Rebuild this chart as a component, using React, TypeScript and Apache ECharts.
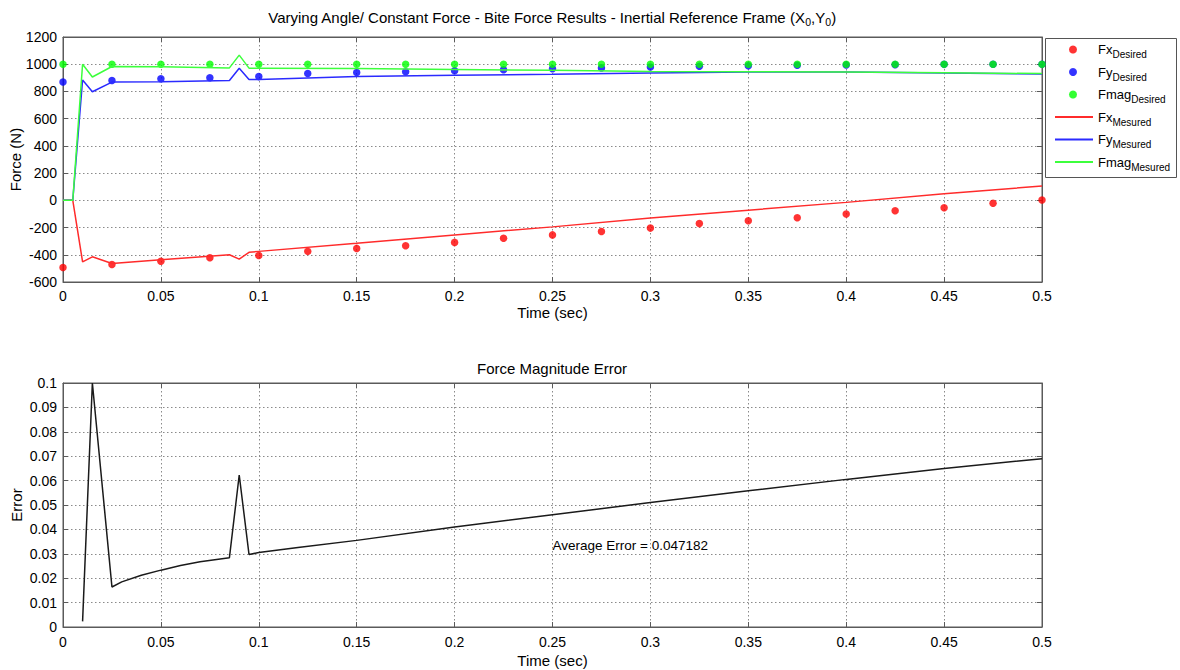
import React, { useEffect, useRef } from "react";
import * as echarts from "echarts";

// ---------- data ----------
const tDesired = [0, 0.025, 0.05, 0.075, 0.1, 0.125, 0.15, 0.175, 0.2, 0.225, 0.25, 0.275, 0.3, 0.325, 0.35, 0.375, 0.4, 0.425, 0.45, 0.475, 0.5];
const fxDesired = [-494, -472, -447, -422, -405, -375, -353, -334, -309, -279, -254, -229, -204, -171, -150, -128, -100, -76, -54, -22, 2];
const fyDesired = [870, 881, 893, 901, 909, 931, 939, 944, 952, 960, 967, 973, 979, 985, 989, 992, 995, 997, 999, 1000, 1000];
const fmagDesired = [1000, 1000, 1000, 1000, 1000, 1000, 1000, 1000, 1000, 1000, 1000, 1000, 1000, 1000, 1000, 1000, 1000, 1000, 1000, 1000, 1000];

const tMeasured = [0, 0.005, 0.01, 0.015, 0.025, 0.05, 0.085, 0.09, 0.095, 0.1, 0.15, 0.2, 0.25, 0.3, 0.35, 0.4, 0.45, 0.5];
const fxMeasured = [0, 0, -452, -415, -464, -437, -400, -432, -382, -375, -316, -254, -195, -130, -72, -15, 48, 105];
const fyMeasured = [0, 0, 884, 798, 869, 872, 880, 971, 887, 888, 909, 919, 926, 936, 943, 943, 935, 928];
const fmagMeasured = [0, 0, 1000, 906, 983, 981, 973, 1067, 971, 971, 969, 961, 955, 946, 945, 943, 938, 931];

const tError = [0.01, 0.015, 0.025, 0.03, 0.04, 0.05, 0.06, 0.07, 0.085, 0.09, 0.095, 0.1, 0.12, 0.15, 0.2, 0.25, 0.3, 0.35, 0.4, 0.45, 0.5];
const errorValues = [0.0023, 0.1, 0.0164, 0.0185, 0.0212, 0.0233, 0.0252, 0.0267, 0.0284, 0.0623, 0.0297, 0.0305, 0.0326, 0.0355, 0.041, 0.046, 0.051, 0.0558, 0.0605, 0.065, 0.069];

const averageErrorLabel = "Average Error = 0.047182";
const averageErrorAnchor = [0.25, 0.0332];

const topTitle = "{n|Varying Angle/ Constant Force - Bite Force Results - Inertial Reference Frame (X}{s|0}{n|,Y}{s|0}{n|)}";
const bottomTitle = "Force Magnitude Error";

const desiredNames = ["FxDesired", "FyDesired", "FmagDesired"];
const measuredNames = ["FxMesured", "FyMesured", "FmagMesured"];

// ---------- helpers ----------
const FONT = "'Liberation Sans', Arial, Helvetica, sans-serif";
const zip = (xs: number[], ys: number[]) => xs.map((x, i) => [x, ys[i]]);

const AXIS_COLOR = "#5a5a5a";
const GRID_COLOR = "#8a8a8a";
const RED = "#ff2b2b";
const BLUE = "#2b2bff";
const GREEN = "#3cff3c";

function mainAxis(extra: any) {
  return {
    type: "value",
    axisLine: { show: true, onZero: false, lineStyle: { color: AXIS_COLOR, width: 1 } },
    axisTick: { show: true, inside: true, length: 5, lineStyle: { color: AXIS_COLOR } },
    splitLine: { show: true, lineStyle: { color: GRID_COLOR, type: [1.5, 2.5], width: 1 } },
    nameLocation: "middle",
    nameMoveOverlap: false,
    nameTextStyle: { color: "#000", fontSize: 15, fontFamily: FONT },
    ...extra,
  };
}
function tickAxis(extra: any) {
  return {
    type: "value",
    axisLine: { show: true, onZero: false, lineStyle: { color: AXIS_COLOR, width: 1 } },
    axisTick: { show: true, inside: true, length: 5, lineStyle: { color: AXIS_COLOR } },
    axisLabel: { show: false },
    splitLine: { show: false },
    ...extra,
  };
}

const fmtNum = (v: number) => String(+v.toFixed(3));

export default function App() {
  const ref = useRef<HTMLDivElement>(null);
  useEffect(() => {
    if (!ref.current) return;
    const chart = echarts.init(ref.current, undefined, { renderer: "svg" });
    const xCommon = { min: 0, max: 0.5, interval: 0.05 };
    const labelStyle = { show: true, color: "#000", fontSize: 14, fontFamily: FONT, formatter: fmtNum };
    const legendRich = {
      sp: { width: 16, fontSize: 13, lineHeight: 20 },
      n: { fontSize: 13, lineHeight: 20, fontFamily: FONT, color: "#000", fontWeight: "normal" },
      s: { fontSize: 10, lineHeight: 10, verticalAlign: "bottom", fontFamily: FONT, color: "#000", fontWeight: "normal" },
    };
    const splitName = (name: string) => {
      const m = name.match(/^(.*?)(Desired|Mesured)$/);
      return m ? `{n|${m[1]}}{s|${m[2]}}` : name;
    };
    const legendBase = {
      orient: "vertical",
      padding: 0,
      itemGap: 6,
      textStyle: { fontFamily: FONT, fontSize: 13, rich: legendRich },
    };
    const option: any = {
      animation: false,
      backgroundColor: "#fff",
      title: [
        {
          text: topTitle,
          left: 552,
          top: 7,
          textAlign: "center",
          padding: 0,
          textStyle: {
            fontFamily: FONT,
            fontWeight: "normal",
            rich: {
              n: { fontSize: 15, lineHeight: 20, fontFamily: FONT, color: "#000", fontWeight: "normal" },
              s: { fontSize: 10.5, lineHeight: 10, verticalAlign: "bottom", fontFamily: FONT, color: "#000", fontWeight: "normal" },
            },
          },
        },
        {
          text: bottomTitle,
          left: 552,
          top: 358,
          textAlign: "center",
          padding: 0,
          textStyle: { fontFamily: FONT, fontSize: 15, lineHeight: 20, fontWeight: "normal", color: "#000" },
        },
      ],
      graphic: [
        {
          type: "rect",
          left: 1045,
          top: 38,
          z: -1,
          shape: { width: 131, height: 139 },
          style: { fill: "#fff", stroke: "#555", lineWidth: 1 },
        },
      ],
      legend: [
        {
          ...legendBase,
          left: 1069,
          top: 43,
          itemWidth: 8,
          itemHeight: 8,
          formatter: (name: string) => `{sp| }${splitName(name)}`,
          data: desiredNames.map((name) => ({ name, icon: "circle" })),
        },
        {
          ...legendBase,
          left: 1055,
          top: 110.5,
          itemWidth: 38,
          itemHeight: 2,
          formatter: splitName,
          data: measuredNames.map((name) => ({ name, icon: "rect" })),
        },
      ],
      grid: [
        { left: 63, top: 37, width: 979, height: 245, show: true, borderColor: AXIS_COLOR, borderWidth: 1, backgroundColor: "#fff", containLabel: false, outerBoundsMode: "none" },
        { left: 63, top: 383, width: 979, height: 244, show: true, borderColor: AXIS_COLOR, borderWidth: 1, backgroundColor: "#fff", containLabel: false, outerBoundsMode: "none" },
      ],
      xAxis: [
        mainAxis({ gridIndex: 0, position: "bottom", ...xCommon, name: "Time (sec)", nameGap: 23, axisLabel: { ...labelStyle, margin: 7 } }),
        tickAxis({ gridIndex: 0, position: "top", ...xCommon }),
        mainAxis({ gridIndex: 1, position: "bottom", ...xCommon, name: "Time (sec)", nameGap: 26, axisLabel: { ...labelStyle, margin: 8 } }),
        tickAxis({ gridIndex: 1, position: "top", ...xCommon }),
      ],
      yAxis: [
        mainAxis({ gridIndex: 0, position: "left", min: -600, max: 1200, interval: 200, name: "Force (N)", nameGap: 40, axisLabel: { ...labelStyle, margin: 6 } }),
        tickAxis({ gridIndex: 0, position: "right", min: -600, max: 1200, interval: 200 }),
        mainAxis({ gridIndex: 1, position: "left", min: 0, max: 0.1, interval: 0.01, name: "Error", nameGap: 39, axisLabel: { ...labelStyle, margin: 6 } }),
        tickAxis({ gridIndex: 1, position: "right", min: 0, max: 0.1, interval: 0.01 }),
      ],
      series: [
        { name: "FxDesired", type: "scatter", xAxisIndex: 0, yAxisIndex: 0, data: zip(tDesired, fxDesired), symbol: "circle", symbolSize: 7.5, itemStyle: { color: "#ff0000" } },
        { name: "FyDesired", type: "scatter", xAxisIndex: 0, yAxisIndex: 0, data: zip(tDesired, fyDesired), symbol: "circle", symbolSize: 7.5, itemStyle: { color: "#0000ff" } },
        { name: "FmagDesired", type: "scatter", xAxisIndex: 0, yAxisIndex: 0, data: zip(tDesired, fmagDesired), symbol: "circle", symbolSize: 7.5, itemStyle: { color: "#00ff00" } },
        { name: "FxMesured", type: "line", xAxisIndex: 0, yAxisIndex: 0, data: zip(tMeasured, fxMeasured), symbol: "none", showSymbol: false, lineStyle: { color: RED, width: 1.5 }, itemStyle: { color: RED } },
        { name: "FyMesured", type: "line", xAxisIndex: 0, yAxisIndex: 0, data: zip(tMeasured, fyMeasured), symbol: "none", showSymbol: false, lineStyle: { color: BLUE, width: 1.5 }, itemStyle: { color: BLUE } },
        { name: "FmagMesured", type: "line", xAxisIndex: 0, yAxisIndex: 0, data: zip(tMeasured, fmagMeasured), symbol: "none", showSymbol: false, lineStyle: { color: GREEN, width: 1.5 }, itemStyle: { color: GREEN } },
        {
          name: "Error",
          type: "line",
          xAxisIndex: 2,
          yAxisIndex: 2,
          data: zip(tError, errorValues),
          symbol: "none",
          showSymbol: false,
          lineStyle: { color: "#1a1a1a", width: 1.5 },
          itemStyle: { color: "#1a1a1a" },
          markPoint: {
            silent: true,
            symbol: "circle",
            symbolSize: 0,
            data: [
              {
                coord: averageErrorAnchor,
                label: { show: true, formatter: averageErrorLabel, position: "right", distance: 0, color: "#000", fontSize: 13.5, fontFamily: FONT },
              },
            ],
          },
        },
      ],
    };
    chart.setOption(option);
    return () => chart.dispose();
  }, []);
  return <div ref={ref} style={{ position: "absolute", left: 0, top: 0, width: 1180, height: 670, background: "#fff" }} />;
}
